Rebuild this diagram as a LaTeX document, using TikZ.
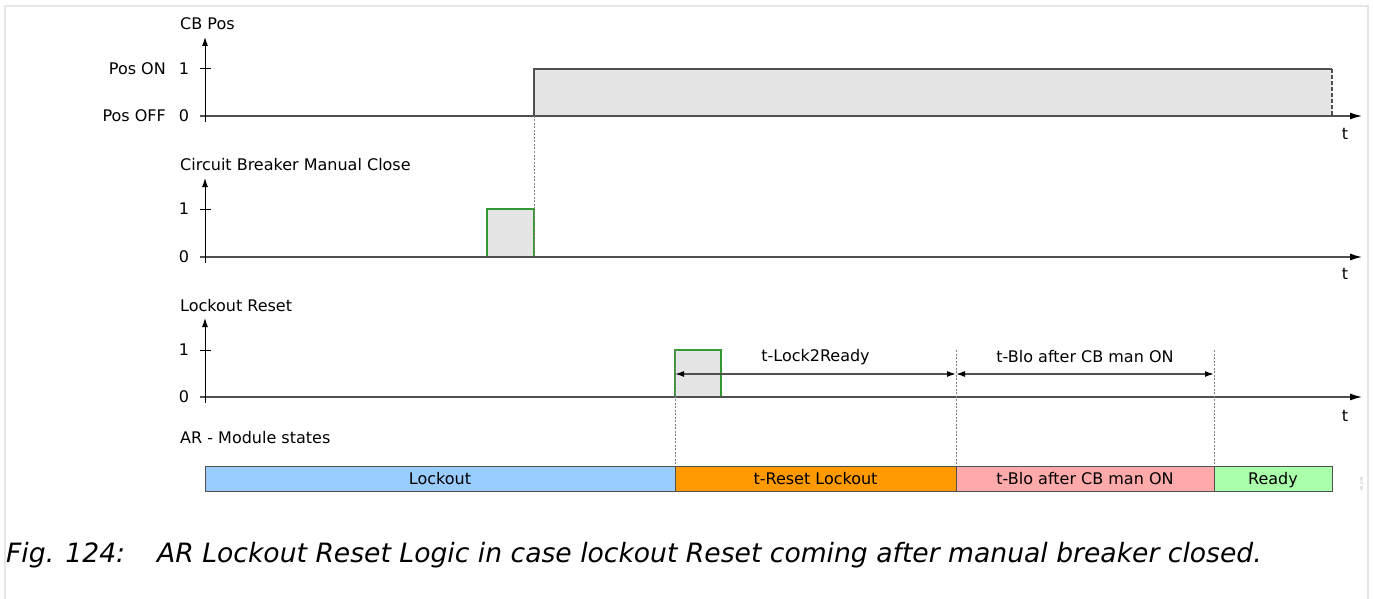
\documentclass[tikz,border=0pt]{standalone}
\usepackage{fontspec}
\setmainfont{DejaVu Sans}
\usetikzlibrary{arrows.meta}

\definecolor{sigfill}{HTML}{E5E5E5}
\definecolor{sigline}{HTML}{505050}
\definecolor{pulsegreen}{HTML}{339933}
\definecolor{stlock}{HTML}{99CCFF}
\definecolor{streset}{HTML}{FF9900}
\definecolor{stblo}{HTML}{FFAAAA}
\definecolor{stready}{HTML}{AAFFAA}
\definecolor{framegray}{HTML}{E6E6E6}

\tikzset{
  lbl/.style={font=\fontsize{16}{19}\selectfont, inner sep=0pt, text=black},
  yaxis/.style={-{Latex[length=9pt,width=6pt]}, line width=1pt, black},
  taxis/.style={-{Latex[length=12pt,width=7pt,color=black]}, line width=1.3pt, sigline},
  signal/.style={draw=sigline, line width=1.2pt},
  pulse/.style={draw=pulsegreen, fill=sigfill, line width=1.2pt},
  guide/.style={dashed, dash pattern=on 2pt off 1.5pt, gray, line width=0.8pt},
  dimline/.style={{Latex[length=9pt,width=6pt,color=black]}-{Latex[length=9pt,width=6pt,color=black]},
    line width=1.3pt, sigline},
  statebox/.style={draw=sigline, line width=1pt, minimum height=25pt, inner sep=0pt, outer sep=0pt,
    text height=13.5pt, text depth=1.5pt, anchor=west, font=\fontsize{16}{19}\selectfont}
}

\begin{document}
\begin{tikzpicture}[x=1pt, y=-1pt]
  \useasboundingbox (0,0) rectangle (1373,599);
  % frame
  \draw[framegray, line width=2pt] (4.5,599) -- (4.5,6.5) -- (1368,6.5) -- (1368,599);

  % CB Pos
  \node[lbl, anchor=west] (cbpos) at (180,24) {CB Pos};
  \node[lbl, anchor=east] (poson) at (166,69) {Pos ON};
  \node[lbl] (poson1) at (184,69) {1};
  \node[lbl, anchor=east] (posoff) at (166,116) {Pos OFF};
  \node[lbl] (posoff0) at (184,116) {0};
  \fill[sigfill] (534,116) rectangle (1332,69);
  \draw[signal] (534,116) -- (534,69) -- (1332,69);
  \draw[sigline, line width=1.2pt, dashed, dash pattern=on 4pt off 2pt] (1332,69) -- (1332,116);
  \draw[line width=1pt] (200,69) -- (211,69);
  \draw[taxis] (200,116) -- (1362,116);
  \draw[yaxis] (205,122) -- (205,37);
  \node[lbl] (t1) at (1345,134) {t};

  % Circuit Breaker Manual Close
  \node[lbl, anchor=west] (cbclose) at (180,165) {Circuit Breaker Manual Close};
  \node[lbl] (cb1) at (184,209) {1};
  \node[lbl] (cb0) at (184,257) {0};
  \draw[pulse] (487,257) rectangle (534,209);
  \draw[guide] (534,116) -- (534,257);
  \draw[line width=1pt] (200,209) -- (211,209);
  \draw[taxis] (200,257) -- (1362,257);
  \draw[yaxis] (205,263) -- (205,178);
  \node[lbl] (t2) at (1345,274) {t};

  % Lockout Reset
  \node[lbl, anchor=west] (lreset) at (180,306) {Lockout Reset};
  \node[lbl] (lr1) at (184,350) {1};
  \node[lbl] (lr0) at (184,397) {0};
  \draw[pulse] (675,397) rectangle (721,350);
  \draw[line width=1pt] (200,350) -- (211,350);
  \draw[taxis] (200,397) -- (1362,397);
  \draw[yaxis] (205,403) -- (205,318);
  \node[lbl] (t3) at (1345,416) {t};

  % timers
  \coordinate (tr0) at (675,374);
  \coordinate (tr1) at (956,374);
  \coordinate (tr2) at (1214,374);
  \draw[guide] (675,350) -- (675,466);
  \draw[guide] (956,350) -- (956,466);
  \draw[guide] (1214,350) -- (1214,466);
  \draw[dimline] (tr0) -- (tr1) node[lbl, midway, yshift=17pt] (tlock) {t-Lock2Ready};
  \draw[dimline] (tr1) -- (tr2) node[lbl, midway, yshift=17pt] (tblo) {t-Blo after CB man ON};

  % AR module states
  \node[lbl, anchor=west] (arstates) at (180,438) {AR - Module states};
  \node[statebox, fill=stlock, minimum width=470pt] (lockout) at (205,478.5) {Lockout};
  \node[statebox, fill=streset, minimum width=281pt] (treset) at (lockout.east) {t-Reset Lockout};
  \node[statebox, fill=stblo, minimum width=258pt] (tbloc) at (treset.east) {t-Blo after CB man ON};
  \node[statebox, fill=stready, minimum width=118pt] (ready) at (tbloc.east) {Ready};
  \node[rotate=90, font=\fontsize{3.5}{4}\selectfont, gray!60, inner sep=0pt] (figid) at (1362,484) {AR\_Z08};

  % caption
  \node[anchor=base west, inner sep=0pt, font=\fontsize{26.6}{30}\selectfont\itshape] (caption) at (6,562)
    {Fig. 124:\hspace{32pt}AR Lockout Reset Logic in case lockout Reset coming after manual breaker closed.};
\end{tikzpicture}
\end{document}
